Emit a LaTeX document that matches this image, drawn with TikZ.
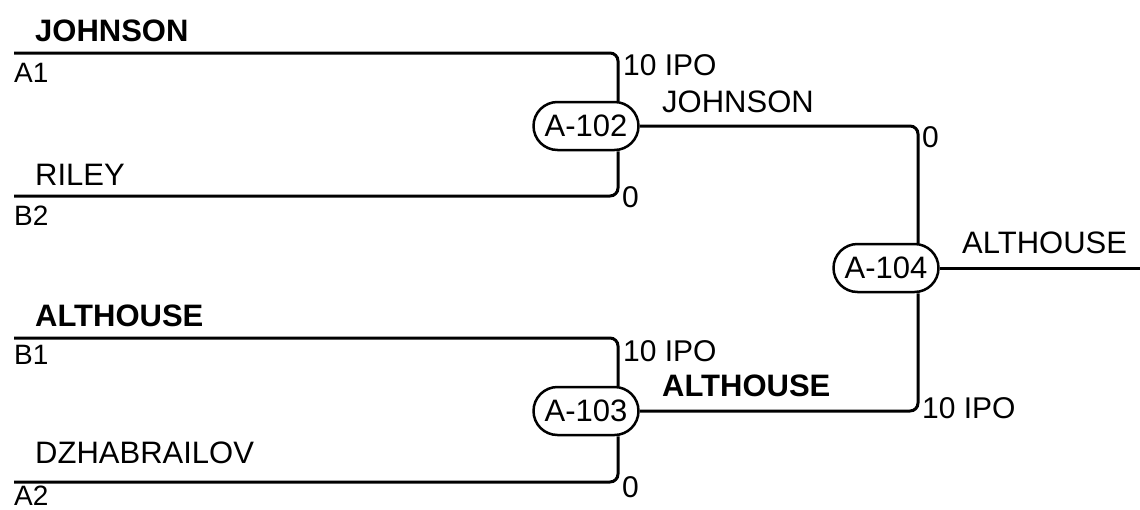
\documentclass[tikz,border=0pt]{standalone}
\usepackage{fontspec}
\setmainfont{Liberation Sans}
\usetikzlibrary{positioning}

\begin{document}
\begin{tikzpicture}[x=1pt, y=-1pt,
        match/.style={rectangle, draw, line width=2.5pt, rounded corners=24pt, minimum width=105pt, minimum height=48pt, inner sep=0pt, font=\fontsize{31}{31}\selectfont},
        player/.style={anchor=base west, inner sep=0pt, font=\fontsize{31}{31}\selectfont},
        winner/.style={player, font=\fontsize{31}{31}\selectfont\bfseries},
        seed/.style={anchor=base west, inner sep=0pt, font=\fontsize{28}{28}\selectfont},
        score/.style={anchor=base west, inner sep=0pt, font=\fontsize{30}{30}\selectfont},
        wire/.style={line width=3pt, rounded corners=8pt}]
        \def\off{32}
        \useasboundingbox (0,0) rectangle (1140,509);

        % matches
        \node(a102) [match] at (586,126) {A-102};
        \node(a103) [match] at (586,411) {A-103};
        \node(a104) [match] at (886,268) {A-104};

        % line starts
        \coordinate (a1) at (14,53);
        \coordinate (b2) at (14,196);
        \coordinate (b1) at (14,338);
        \coordinate (a2) at (14,482);
        \coordinate (out) at (1140,268);

        \draw[wire] (a1) -| ([xshift=\off pt]a102.north);
        \draw[wire] (b2) -| ([xshift=\off pt]a102.south);
        \draw[wire] (b1) -| ([xshift=\off pt]a103.north);
        \draw[wire] (a2) -| ([xshift=\off pt]a103.south);
        \draw[wire] (a102.east) -| ([xshift=\off pt]a104.north);
        \draw[wire] (a103.east) -| ([xshift=\off pt]a104.south);
        \draw[wire] (a104.east) -- (out);

        % players
        \node(johnson) [winner] at (35,41) {JOHNSON};
        \node(seedA1) [seed] at (14,82) {A1};
        \node(riley) [player] at (35,185) {RILEY};
        \node(seedB2) [seed] at (14,225) {B2};
        \node(althouse) [winner] at (35,326) {ALTHOUSE};
        \node(seedB1) [seed] at (14,364) {B1};
        \node(dzhab) [player] at (35,463) {DZHABRAILOV};
        \node(seedA2) [seed] at (14,505) {A2};

        % results
        \node(w102) [player] at (662,112) {JOHNSON};
        \node(w103) [winner] at (662,396) {ALTHOUSE};
        \node(w104) [player] at (962,253) {ALTHOUSE};

        % scores
        \node(s1) [score] at (623,75) {10 IPO};
        \node(s2) [score] at (622,207) {0};
        \node(s3) [score] at (623,361) {10 IPO};
        \node(s4) [score] at (622,497) {0};
        \node(s5) [score] at (922,147) {0};
        \node(s6) [score] at (922,418) {10 IPO};
\end{tikzpicture}
\end{document}
